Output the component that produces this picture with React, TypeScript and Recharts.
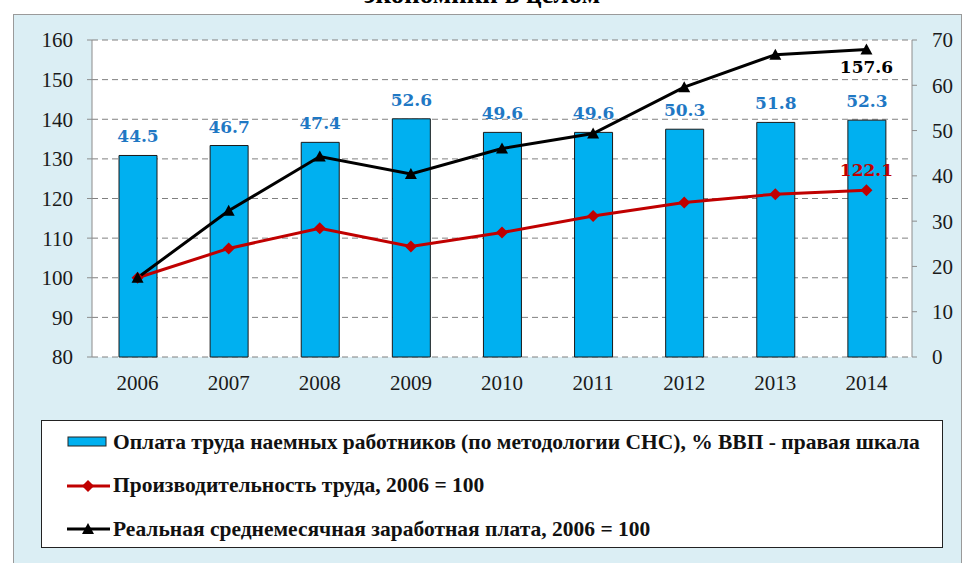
import { Bar, CartesianGrid, ComposedChart, LabelList, Line, XAxis, YAxis } from 'recharts';

const years = ['2006', '2007', '2008', '2009', '2010', '2011', '2012', '2013', '2014'];
// оплата труда, % ВВП (правая шкала)
const laborShare = [44.5, 46.7, 47.4, 52.6, 49.6, 49.6, 50.3, 51.8, 52.3];
// производительность труда, 2006 = 100
const productivity = [100, 107.4, 112.5, 107.9, 111.4, 115.6, 119.0, 121.1, 122.1];
// реальная среднемесячная зарплата, 2006 = 100
const realWage = [100, 116.9, 130.6, 126.2, 132.6, 136.4, 148.1, 156.3, 157.6];
const leftTicks = [80, 90, 100, 110, 120, 130, 140, 150, 160];
const rightTicks = [0, 10, 20, 30, 40, 50, 60, 70];
const edgeTicks = [0, 1, 2, 3, 4, 5, 6, 7, 8, 9];

const legendNames = [
  'Оплата труда наемных работников (по методологии СНС), % ВВП - правая шкала',
  'Производительность труда, 2006 = 100',
  'Реальная среднемесячная заработная плата, 2006 = 100',
];

const data = years.map((year, i) => ({
  year,
  share: laborShare[i],
  prod: productivity[i],
  wage: realWage[i],
}));

const RED = '#c00000';
const BAR = '#00b0f0';
const LABEL_BLUE = '#1f78c4';
const AXIS = '#8c8c8c';
const serif = '"Liberation Serif", "Times New Roman", serif';
const wideSerif = '"DejaVu Serif", serif';
const last = years.length - 1;

const Diamond = (props: any) => {
  const { cx, cy, index } = props;
  if (cx == null || cy == null) return null;
  return <path key={`d${index}`} d={`M${cx},${cy - 6}L${cx + 6},${cy}L${cx},${cy + 6}L${cx - 6},${cy}Z`} fill={RED} />;
};

const Triangle = (props: any) => {
  const { cx, cy, index } = props;
  if (cx == null || cy == null) return null;
  return <path key={`t${index}`} d={`M${cx},${cy - 6}L${cx + 6},${cy + 5}L${cx - 6},${cy + 5}Z`} fill="#000" />;
};

const endLabel = (color: string, dy: number) => (props: any) => {
  const { x, y, value, index } = props;
  if (index !== last) return null;
  return (
    <text x={x} y={y + dy} textAnchor="middle" fill={color} fontFamily={wideSerif} fontWeight="bold" fontSize={17}>
      {Number(value).toFixed(1)}
    </text>
  );
};

const barLabel = (props: any) => {
  const { x, y, width, value } = props;
  return (
    <text x={x + width / 2} y={y - 13} textAnchor="middle" fill={LABEL_BLUE} fontFamily={wideSerif} fontWeight="bold" fontSize={17}>
      {Number(value).toFixed(1)}
    </text>
  );
};

const tickStyle = { fill: '#1a1a1a', fontSize: 21, fontFamily: serif };

const LegendBox = () => (
  <div
    style={{
      position: 'absolute',
      left: 41,
      top: 420,
      width: 900,
      height: 126,
      background: '#fff',
      border: '1px solid #222',
      fontFamily: serif,
      fontWeight: 'bold',
      fontSize: 21.5,
      color: '#111',
    }}
  >
    {legendNames.map((name, i) => (
      <div key={name} style={{ position: 'absolute', left: 25, top: 8 + i * 43.5, height: 26, display: 'flex', alignItems: 'center', whiteSpace: 'nowrap' }}>
        <svg width={45} height={16} style={{ marginRight: 1 }}>
          {i === 0 && <rect x={1} y={3} width={38} height={9} fill={BAR} stroke="#222" strokeWidth={1} />}
          {i === 1 && (
            <g>
              <line x1={0} y1={8} x2={43} y2={8} stroke={RED} strokeWidth={3} />
              <path d="M21,2L27,8L21,14L15,8Z" fill={RED} />
            </g>
          )}
          {i === 2 && (
            <g>
              <line x1={0} y1={8} x2={43} y2={8} stroke="#000" strokeWidth={3} />
              <path d="M21,2L27,13L15,13Z" fill="#000" />
            </g>
          )}
        </svg>
        <span>{name}</span>
      </div>
    ))}
  </div>
);

export default function App() {
  return (
    <div style={{ position: 'absolute', left: 0, top: 0, width: 964, height: 563, overflow: 'hidden', background: '#fff' }}>
      <div
        style={{
          position: 'absolute',
          left: 0,
          width: 964,
          top: -19,
          textAlign: 'center',
          fontFamily: serif,
          fontWeight: 'bold',
          fontSize: 27,
          lineHeight: '27px',
          color: '#000',
        }}
      >
        экономики в целом
      </div>
      <div
        style={{
          position: 'absolute',
          left: 13,
          top: 14,
          width: 947,
          height: 560,
          background: '#dbeef4',
          border: '1px solid #9a9a9a',
        }}
      />
      <div style={{ position: 'absolute', left: 0, top: 0 }}>
        <ComposedChart width={964} height={400} data={data} margin={{ top: 40, right: 0, bottom: 3, left: 0 }}>
          <CartesianGrid yAxisId="left" xAxisId="cat" vertical={false} stroke="#808080" strokeDasharray="6 4" fill="#fff" />
          <XAxis
            xAxisId="edge"
            type="number"
            domain={[0, 9]}
            ticks={edgeTicks}
            allowDataOverflow
            height={0}
            tick={false}
            tickSize={6}
            stroke={AXIS}
            axisLine={{ stroke: AXIS }}
            tickLine={{ stroke: AXIS }}
          />
          <XAxis
            xAxisId="cat"
            dataKey="year"
            height={40}
            axisLine={false}
            tickLine={false}
            tickSize={0}
            tickMargin={18}
            tick={tickStyle}
            interval={0}
          />
          <YAxis
            yAxisId="left"
            width={92}
            domain={[80, 160]}
            ticks={leftTicks}
            interval={0}
            tick={tickStyle}
            tickSize={5}
            tickMargin={14}
            axisLine={{ stroke: AXIS }}
            tickLine={{ stroke: AXIS }}
          />
          <YAxis
            yAxisId="right"
            orientation="right"
            width={52}
            domain={[0, 70]}
            ticks={rightTicks}
            interval={0}
            tick={tickStyle}
            tickSize={5}
            tickMargin={15}
            axisLine={{ stroke: AXIS }}
            tickLine={{ stroke: AXIS }}
          />
          <Bar xAxisId="cat" yAxisId="right" dataKey="share" barSize={38} fill={BAR} stroke="#1a1a1a" strokeWidth={1} isAnimationActive={false}>
            <LabelList dataKey="share" content={barLabel} />
          </Bar>
          <Line xAxisId="cat" yAxisId="left" dataKey="prod" stroke={RED} strokeWidth={3} dot={Diamond} activeDot={false} isAnimationActive={false}>
            <LabelList dataKey="prod" content={endLabel(RED, -14)} />
          </Line>
          <Line xAxisId="cat" yAxisId="left" dataKey="wage" stroke="#000" strokeWidth={3} dot={Triangle} activeDot={false} isAnimationActive={false}>
            <LabelList dataKey="wage" content={endLabel('#000', 23)} />
          </Line>
        </ComposedChart>
      </div>
      <LegendBox />
    </div>
  );
}
